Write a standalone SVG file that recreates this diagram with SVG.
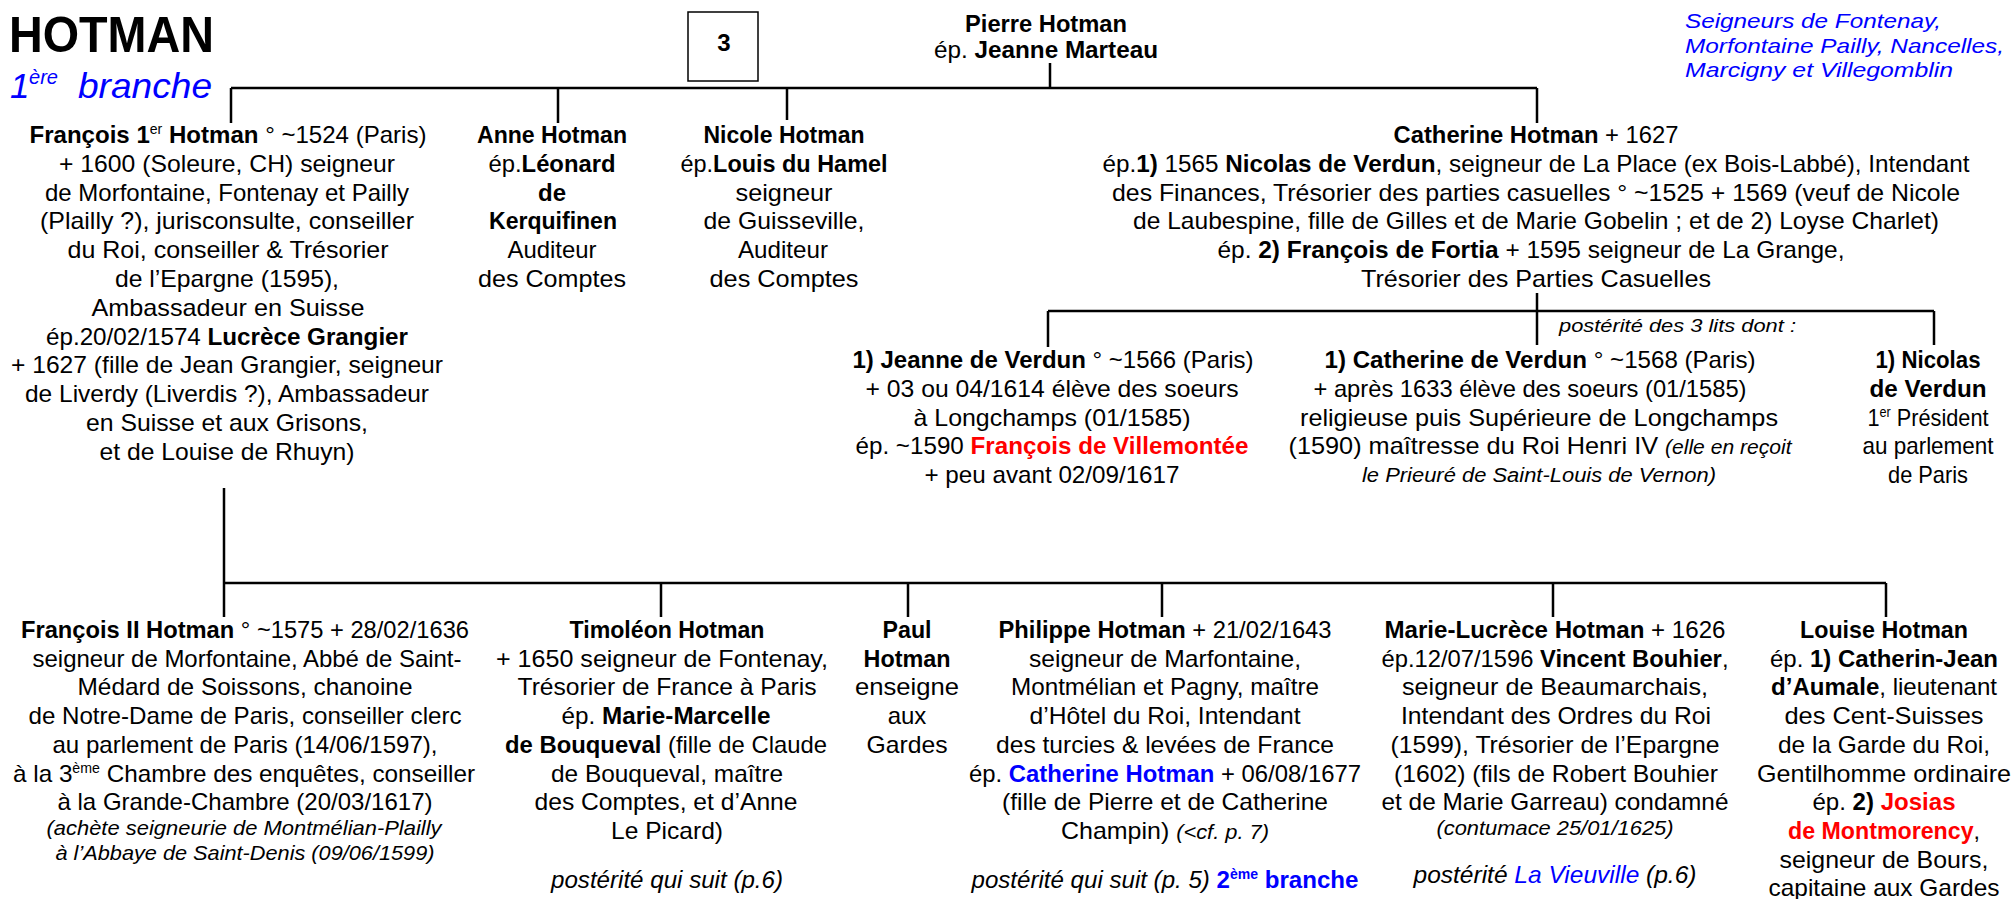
<svg xmlns="http://www.w3.org/2000/svg" width="2014" height="899" viewBox="0 0 2014 899">
<style>
text { font-family: "Liberation Sans", Arial, sans-serif; font-size: 24px; fill: #000; text-anchor: middle; }
.l { text-anchor: start; }
.b { font-weight: bold; }
.i { font-style: italic; }
.s { font-size: 21px; }
.xs { font-size: 19px; }
.blue { fill: #0000ff; }
.red { fill: #ff0000; }
.sup { font-size: 14px; }
.ln { stroke: #000; stroke-width: 2.5; fill: none; }
.box { stroke: #000; stroke-width: 1.5; fill: #fff; }
</style>
<rect width="2014" height="899" fill="#fff"/>

<g id="title">
<text class="l b" x="9" y="52" style="font-size:50px" textLength="205" lengthAdjust="spacingAndGlyphs">HOTMAN</text>
<text class="l i blue" x="10" y="98" style="font-size:35px">1</text>
<text class="l i blue" x="29" y="84" style="font-size:21px" textLength="29" lengthAdjust="spacingAndGlyphs">ère</text>
<text class="l i blue" x="78" y="98" style="font-size:35px" textLength="134" lengthAdjust="spacingAndGlyphs">branche</text>
</g>

<g id="subtitle">
<text class="l i blue s" x="1685" y="28" textLength="256" lengthAdjust="spacingAndGlyphs">Seigneurs de Fontenay,</text>
<text class="l i blue s" x="1685" y="53" textLength="319" lengthAdjust="spacingAndGlyphs">Morfontaine Pailly, Nancelles,</text>
<text class="l i blue s" x="1685" y="77" textLength="268" lengthAdjust="spacingAndGlyphs">Marcigny et Villegomblin</text>
</g>

<g id="page-box">
<rect class="box" x="688" y="12" width="70" height="69"/>
<text class="b" x="724" y="51">3</text>
</g>

<g id="connectors">
<path class="ln" d="M1050 63 V88 M231 88 H1537 M231 88 V123 M558 88 V123 M787 88 V120 M1537 88 V123"/>
<path class="ln" d="M1537 293 V345 M1048 311 H1934 M1048 311 V347 M1934 311 V345"/>
<path class="ln" d="M224 488 V617 M224 583 H1886 M661 583 V617 M908 583 V617 M1162 583 V617 M1553 583 V617 M1886 583 V617"/>
</g>

<g id="pierre">
<text class="b" x="1046" y="32" textLength="162" lengthAdjust="spacingAndGlyphs">Pierre Hotman</text>
<text x="1046" y="58" textLength="224" lengthAdjust="spacingAndGlyphs">ép. <tspan class="b">Jeanne Marteau</tspan></text>
</g>

<g id="francois1">
<text x="228" y="143" textLength="397" lengthAdjust="spacingAndGlyphs"><tspan class="b">François 1</tspan><tspan class="sup" dy="-9">er</tspan><tspan class="b" dy="9"> Hotman</tspan> ° ~1524 (Paris)</text>
<text x="227" y="171.8" textLength="336" lengthAdjust="spacingAndGlyphs">+ 1600 (Soleure, CH) seigneur</text>
<text x="227" y="200.6" textLength="364" lengthAdjust="spacingAndGlyphs">de Morfontaine, Fontenay et Pailly</text>
<text x="227" y="229.4" textLength="374" lengthAdjust="spacingAndGlyphs">(Plailly ?), jurisconsulte, conseiller</text>
<text x="228" y="258.2" textLength="321" lengthAdjust="spacingAndGlyphs">du Roi, conseiller &amp; Trésorier</text>
<text x="227" y="287" textLength="224" lengthAdjust="spacingAndGlyphs">de l’Epargne (1595),</text>
<text x="228" y="315.8" textLength="273" lengthAdjust="spacingAndGlyphs">Ambassadeur en Suisse</text>
<text x="227" y="344.6" textLength="362" lengthAdjust="spacingAndGlyphs">ép.20/02/1574 <tspan class="b">Lucrèce Grangier</tspan></text>
<text x="227" y="373.4" textLength="432" lengthAdjust="spacingAndGlyphs">+ 1627 (fille de Jean Grangier, seigneur</text>
<text x="227" y="402.2" textLength="404" lengthAdjust="spacingAndGlyphs">de Liverdy (Liverdis ?), Ambassadeur</text>
<text x="227" y="431" textLength="282" lengthAdjust="spacingAndGlyphs">en Suisse et aux Grisons,</text>
<text x="227" y="459.8" textLength="255" lengthAdjust="spacingAndGlyphs">et de Louise de Rhuyn)</text>
</g>

<g id="anne">
<text class="b" x="552" y="143" textLength="150" lengthAdjust="spacingAndGlyphs">Anne Hotman</text>
<text x="552" y="171.8" textLength="127" lengthAdjust="spacingAndGlyphs">ép.<tspan class="b">Léonard</tspan></text>
<text class="b" x="552" y="200.6">de</text>
<text class="b" x="553" y="229.4" textLength="128" lengthAdjust="spacingAndGlyphs">Kerquifinen</text>
<text x="552" y="258.2" textLength="89" lengthAdjust="spacingAndGlyphs">Auditeur</text>
<text x="552" y="287" textLength="148" lengthAdjust="spacingAndGlyphs">des Comptes</text>
</g>

<g id="nicole">
<text class="b" x="784" y="143" textLength="161" lengthAdjust="spacingAndGlyphs">Nicole Hotman</text>
<text x="784" y="171.8" textLength="207" lengthAdjust="spacingAndGlyphs">ép.<tspan class="b">Louis du Hamel</tspan></text>
<text x="784" y="200.6" textLength="97" lengthAdjust="spacingAndGlyphs">seigneur</text>
<text x="784" y="229.4" textLength="161" lengthAdjust="spacingAndGlyphs">de Guisseville,</text>
<text x="783" y="258.2" textLength="90" lengthAdjust="spacingAndGlyphs">Auditeur</text>
<text x="784" y="287" textLength="149" lengthAdjust="spacingAndGlyphs">des Comptes</text>
</g>

<g id="catherine">
<text x="1536" y="143" textLength="285" lengthAdjust="spacingAndGlyphs"><tspan class="b">Catherine Hotman</tspan> + 1627</text>
<text x="1536" y="171.8" textLength="867" lengthAdjust="spacingAndGlyphs">ép.<tspan class="b">1)</tspan> 1565 <tspan class="b">Nicolas de Verdun</tspan>, seigneur de La Place (ex Bois-Labbé), Intendant</text>
<text x="1536" y="200.6" textLength="848" lengthAdjust="spacingAndGlyphs">des Finances, Trésorier des parties casuelles ° ~1525 + 1569 (veuf de Nicole</text>
<text x="1536" y="229.4" textLength="806" lengthAdjust="spacingAndGlyphs">de Laubespine, fille de Gilles et de Marie Gobelin ; et de 2) Loyse Charlet)</text>
<text x="1531" y="258.2" textLength="627" lengthAdjust="spacingAndGlyphs">ép. <tspan class="b">2) François de Fortia</tspan> + 1595 seigneur de La Grange,</text>
<text x="1536" y="287" textLength="350" lengthAdjust="spacingAndGlyphs">Trésorier des Parties Casuelles</text>
</g>

<g id="posterite-note">
<text class="l i xs" x="1559" y="332" textLength="237" lengthAdjust="spacingAndGlyphs">postérité des 3 lits dont :</text>
</g>

<g id="jeanne-verdun">
<text x="1053" y="368" textLength="401" lengthAdjust="spacingAndGlyphs"><tspan class="b">1) Jeanne de Verdun</tspan> ° ~1566 (Paris)</text>
<text x="1052" y="396.8" textLength="373" lengthAdjust="spacingAndGlyphs">+ 03 ou 04/1614 élève des soeurs</text>
<text x="1052" y="425.6" textLength="277" lengthAdjust="spacingAndGlyphs">à Longchamps (01/1585)</text>
<text x="1052" y="454.4" textLength="393" lengthAdjust="spacingAndGlyphs">ép. ~1590  <tspan class="b red">François de Villemontée</tspan></text>
<text x="1052" y="483.2" textLength="255" lengthAdjust="spacingAndGlyphs">+ peu avant 02/09/1617</text>
</g>

<g id="catherine-verdun">
<text x="1540" y="368" textLength="431" lengthAdjust="spacingAndGlyphs"><tspan class="b">1) Catherine de Verdun</tspan> ° ~1568 (Paris)</text>
<text x="1530" y="396.8" textLength="433" lengthAdjust="spacingAndGlyphs">+ après 1633 élève des soeurs (01/1585)</text>
<text x="1539" y="425.6" textLength="478" lengthAdjust="spacingAndGlyphs">religieuse puis Supérieure de Longchamps</text>
<text x="1540" y="454.4" textLength="503" lengthAdjust="spacingAndGlyphs">(1590) maîtresse du Roi Henri IV <tspan class="i" style="font-size:20px">(elle en reçoit</tspan></text>
<text class="i" x="1539" y="482" style="font-size:20px" textLength="354" lengthAdjust="spacingAndGlyphs">le Prieuré de Saint-Louis de Vernon)</text>
</g>

<g id="nicolas-verdun">
<text class="b" x="1928" y="368" textLength="105" lengthAdjust="spacingAndGlyphs">1) Nicolas</text>
<text class="b" x="1928" y="396.8" textLength="117" lengthAdjust="spacingAndGlyphs">de Verdun</text>
<text x="1928" y="425.6" textLength="121" lengthAdjust="spacingAndGlyphs">1<tspan class="sup" dy="-9">er</tspan><tspan dy="9"> Président</tspan></text>
<text x="1928" y="454.4" textLength="131" lengthAdjust="spacingAndGlyphs">au parlement</text>
<text x="1928" y="483.2" textLength="80" lengthAdjust="spacingAndGlyphs">de Paris</text>
</g>

<g id="francois2">
<text x="245" y="638" textLength="448" lengthAdjust="spacingAndGlyphs"><tspan class="b">François II Hotman</tspan> ° ~1575 + 28/02/1636</text>
<text x="247" y="666.7" textLength="429" lengthAdjust="spacingAndGlyphs">seigneur de Morfontaine, Abbé de Saint-</text>
<text x="245" y="695.4" textLength="335" lengthAdjust="spacingAndGlyphs">Médard de Soissons, chanoine</text>
<text x="245" y="724.1" textLength="433" lengthAdjust="spacingAndGlyphs">de Notre-Dame de Paris, conseiller clerc</text>
<text x="245" y="752.8" textLength="385" lengthAdjust="spacingAndGlyphs">au parlement de Paris (14/06/1597),</text>
<text x="244" y="781.5" textLength="462" lengthAdjust="spacingAndGlyphs">à la 3<tspan class="sup" dy="-9">ème</tspan><tspan dy="9"> Chambre des enquêtes, conseiller</tspan></text>
<text x="245" y="810.2" textLength="375" lengthAdjust="spacingAndGlyphs">à la Grande-Chambre (20/03/1617)</text>
<text class="i s" x="244" y="835" textLength="395" lengthAdjust="spacingAndGlyphs">(achète seigneurie de Montmélian-Plailly</text>
<text class="i s" x="245" y="860" textLength="379" lengthAdjust="spacingAndGlyphs">à l’Abbaye de Saint-Denis (09/06/1599)</text>
</g>

<g id="timoleon">
<text class="b" x="667" y="638" textLength="195" lengthAdjust="spacingAndGlyphs">Timoléon Hotman</text>
<text x="662" y="666.7" textLength="332" lengthAdjust="spacingAndGlyphs">+ 1650 seigneur de Fontenay,</text>
<text x="667" y="695.4" textLength="299" lengthAdjust="spacingAndGlyphs">Trésorier de France à Paris</text>
<text x="666" y="724.1" textLength="209" lengthAdjust="spacingAndGlyphs">ép. <tspan class="b">Marie-Marcelle</tspan></text>
<text x="666" y="752.8" textLength="322" lengthAdjust="spacingAndGlyphs"><tspan class="b">de Bouqueval</tspan> (fille de Claude</text>
<text x="667" y="781.5" textLength="232" lengthAdjust="spacingAndGlyphs">de Bouqueval, maître</text>
<text x="666" y="810.2" textLength="263" lengthAdjust="spacingAndGlyphs">des Comptes, et d’Anne</text>
<text x="667" y="838.9" textLength="112" lengthAdjust="spacingAndGlyphs">Le Picard)</text>
<text class="i" x="667" y="888" textLength="232" lengthAdjust="spacingAndGlyphs">postérité qui suit (p.6)</text>
</g>

<g id="paul">
<text class="b" x="907" y="638" textLength="49" lengthAdjust="spacingAndGlyphs">Paul</text>
<text class="b" x="907" y="666.7" textLength="87" lengthAdjust="spacingAndGlyphs">Hotman</text>
<text x="907" y="695.4" textLength="104" lengthAdjust="spacingAndGlyphs">enseigne</text>
<text x="907" y="724.1">aux</text>
<text x="907" y="752.8" textLength="81" lengthAdjust="spacingAndGlyphs">Gardes</text>
</g>

<g id="philippe">
<text x="1165" y="638" textLength="333" lengthAdjust="spacingAndGlyphs"><tspan class="b">Philippe Hotman</tspan> + 21/02/1643</text>
<text x="1165" y="666.7" textLength="272" lengthAdjust="spacingAndGlyphs">seigneur de Marfontaine,</text>
<text x="1165" y="695.4" textLength="308" lengthAdjust="spacingAndGlyphs">Montmélian et Pagny, maître</text>
<text x="1165" y="724.1" textLength="271" lengthAdjust="spacingAndGlyphs">d’Hôtel du Roi, Intendant</text>
<text x="1165" y="752.8" textLength="338" lengthAdjust="spacingAndGlyphs">des turcies &amp; levées de France</text>
<text x="1165" y="781.5" textLength="392" lengthAdjust="spacingAndGlyphs">ép. <tspan class="b blue">Catherine Hotman</tspan> + 06/08/1677</text>
<text x="1165" y="810.2" textLength="326" lengthAdjust="spacingAndGlyphs">(fille de Pierre et de Catherine</text>
<text x="1165" y="838.9" textLength="208" lengthAdjust="spacingAndGlyphs">Champin) <tspan class="i s">(&lt;cf. p. 7)</tspan></text>
<text x="1165" y="888" textLength="387" lengthAdjust="spacingAndGlyphs"><tspan class="i">postérité qui suit (p. 5) </tspan><tspan class="b blue">2</tspan><tspan class="b blue sup" dy="-9">ème</tspan><tspan class="b blue" dy="9"> branche</tspan></text>
</g>

<g id="marie-lucrece">
<text x="1555" y="638" textLength="341" lengthAdjust="spacingAndGlyphs"><tspan class="b">Marie-Lucrèce Hotman</tspan> + 1626</text>
<text x="1555" y="666.7" textLength="347" lengthAdjust="spacingAndGlyphs">ép.12/07/1596 <tspan class="b">Vincent Bouhier</tspan>,</text>
<text x="1555" y="695.4" textLength="306" lengthAdjust="spacingAndGlyphs">seigneur de Beaumarchais,</text>
<text x="1556" y="724.1" textLength="310" lengthAdjust="spacingAndGlyphs">Intendant des Ordres du Roi</text>
<text x="1555" y="752.8" textLength="329" lengthAdjust="spacingAndGlyphs">(1599), Trésorier de l’Epargne</text>
<text x="1556" y="781.5" textLength="324" lengthAdjust="spacingAndGlyphs">(1602) (fils de Robert Bouhier</text>
<text x="1555" y="810.2" textLength="347" lengthAdjust="spacingAndGlyphs">et de Marie Garreau) condamné</text>
<text class="i s" x="1555" y="835" textLength="237" lengthAdjust="spacingAndGlyphs">(contumace  25/01/1625)</text>
<text class="i" x="1555" y="883" textLength="283" lengthAdjust="spacingAndGlyphs">postérité <tspan class="blue">La Vieuville</tspan> (p.6)</text>
</g>

<g id="louise">
<text class="b" x="1884" y="638" textLength="168" lengthAdjust="spacingAndGlyphs">Louise Hotman</text>
<text x="1884" y="666.7" textLength="228" lengthAdjust="spacingAndGlyphs">ép. <tspan class="b">1) Catherin-Jean</tspan></text>
<text x="1884" y="695.4" textLength="226" lengthAdjust="spacingAndGlyphs"><tspan class="b">d’Aumale</tspan>, lieutenant</text>
<text x="1884" y="724.1" textLength="199" lengthAdjust="spacingAndGlyphs">des Cent-Suisses</text>
<text x="1884" y="752.8" textLength="212" lengthAdjust="spacingAndGlyphs">de la Garde du Roi,</text>
<text x="1884" y="781.5" textLength="254" lengthAdjust="spacingAndGlyphs">Gentilhomme ordinaire</text>
<text x="1884" y="810.2" textLength="143" lengthAdjust="spacingAndGlyphs">ép. <tspan class="b">2) </tspan><tspan class="b red">Josias</tspan></text>
<text x="1884" y="838.9" textLength="192" lengthAdjust="spacingAndGlyphs"><tspan class="b red">de Montmorency</tspan>,</text>
<text x="1884" y="867.6" textLength="209" lengthAdjust="spacingAndGlyphs">seigneur de Bours,</text>
<text x="1884" y="896.3" textLength="231" lengthAdjust="spacingAndGlyphs">capitaine aux Gardes</text>
</g>
</svg>
